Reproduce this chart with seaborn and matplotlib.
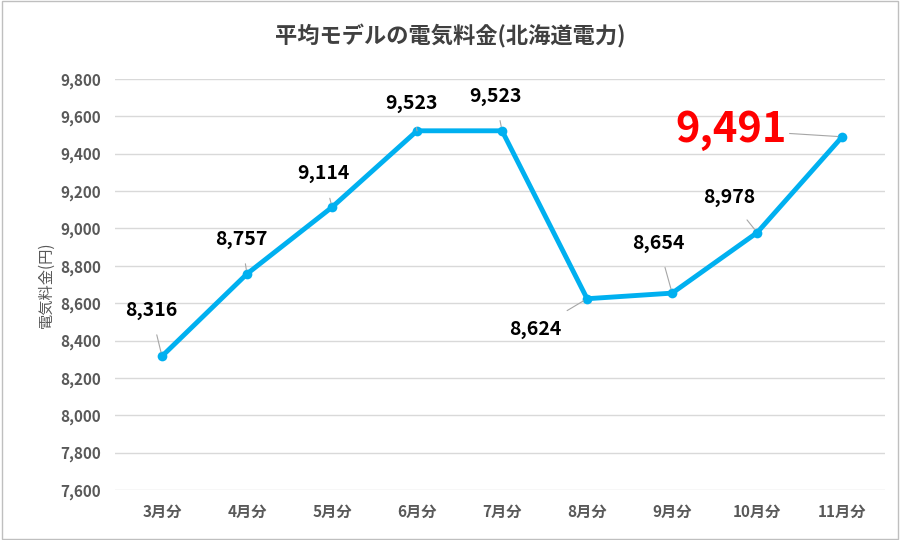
import matplotlib
matplotlib.use("Agg")
import matplotlib.pyplot as plt
import seaborn as sns
import pandas as pd

plt.rcParams["font.family"] = "Noto Sans CJK JP"

months = ["3月分", "4月分", "5月分", "6月分", "7月分", "8月分", "9月分", "10月分", "11月分"]
values = [8316, 8757, 9114, 9523, 9523, 8624, 8654, 8978, 9491]
yticks = list(range(7600, 9801, 200))

df = pd.DataFrame({"month": months, "value": values})

fig = plt.figure(figsize=(9, 5.4), dpi=100)
fig.patches.append(plt.Rectangle((0.002, 0.002), 0.996, 0.996, transform=fig.transFigure,
                                 fill=False, edgecolor="#bfbfbf", linewidth=1))
ax = fig.add_axes([0.128, 0.0926, 0.855, 0.761])
sns.lineplot(data=df, x="month", y="value", sort=False, ax=ax, color="#00b0f0",
             linewidth=3.5, marker="o", markersize=7, markeredgewidth=0)
ax.set_xlim(-0.55, 8.5)
ax.set_ylim(7600, 9800)
ax.set_yticks(yticks)
ax.set_yticklabels([f"{v:,}" for v in yticks], fontsize=11, color="#595959", fontweight="bold")
ax.set_xticks(range(len(months)))
ax.set_xticklabels(months, fontsize=11, color="#595959", fontweight="bold")
ax.tick_params(length=0, pad=10)
ax.grid(axis="y", color="#d9d9d9", linewidth=1)
for s in ax.spines.values():
    s.set_visible(False)
ax.set_xlabel("")
ax.set_ylabel("電気料金(円)", fontsize=11, color="#595959")

offsets = [(-8, 33), (-4, 25), (-6, 24), (-4, 20), (-5, 25), (-37, -22), (-10, 36), (-20, 25), (-80, 5)]
for i, (v, (dx, dy)) in enumerate(zip(values, offsets)):
    big = i == len(values) - 1
    ax.annotate(f"{v:,}", (i, v), xytext=(dx, dy), textcoords="offset points",
                ha="center", va="center",
                fontsize=30 if big else 14, fontweight="bold",
                color="#ff0000" if big else "black",
                arrowprops=dict(arrowstyle="-", color="#a6a6a6", lw=0.8,
                                shrinkA=9 if not big else 38, shrinkB=3))

fig.suptitle("平均モデルの電気料金(北海道電力)", y=0.955, fontsize=16, fontweight="bold", color="#404040")
fig.savefig("out.png", dpi=100)
